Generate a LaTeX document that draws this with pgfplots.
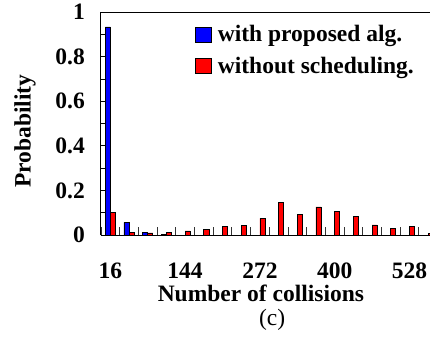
\documentclass[border=0pt]{standalone}
\usepackage{fontspec}
\setmainfont{Liberation Serif}
\usepackage{pgfplots}
\pgfplotsset{compat=1.18}
\newcommand\bigf{\fontsize{23.5}{28}\selectfont}
\begin{document}
\begin{tikzpicture}
\begin{axis}[
  scale only axis, width=329pt, height=223pt,
  xmin=-0.5, xmax=17.1, ymin=0, ymax=1,
  axis x line*=box, axis y line*=left,
  axis line style={line width=1pt, black},
  tick align=inside, xtick pos=lower, ytick pos=left,
  major tick length=4.5pt, minor tick length=8pt,
  xtick={0,4,8,12,16}, xticklabels={16,144,272,400,528},
  minor xtick={-0.5,0.5,1.5,2.5,3.5,4.5,5.5,6.5,7.5,8.5,9.5,10.5,11.5,12.5,13.5,14.5,15.5,16.5},
  major x tick style={draw=none},
  minor x tick style={black!80, line width=0.8pt},
  ytick={0,0.1,0.2,0.3,0.4,0.5,0.6,0.7,0.8,0.9,1},
  yticklabels={0,{},0.2,{},0.4,{},0.6,{},0.8,{},1},
  major y tick style={black, line width=0.8pt},
  xticklabel style={font=\bigf\bfseries, anchor=north, inner sep=0pt, yshift=-28pt},
  yticklabel style={font=\bigf\bfseries, anchor=east, inner sep=0pt, xshift=-16pt},
  xlabel={\bfseries Number of collisions},
  xlabel style={font=\bigf, at={(axis description cs:0.486,0)}, anchor=north, inner sep=0pt, yshift=-50pt},
  ylabel={\bfseries Probability},
  ylabel style={font=\bigf, at={(axis description cs:-0.198,0.466)}, anchor=south, inner sep=0pt},
  legend style={at={(axis description cs:0.2857,0.945)}, anchor=north west, draw=none, fill=none,
    inner sep=0pt, font=\bigf\bfseries, row sep=12pt, nodes={inner sep=1pt},
    /tikz/every odd column/.append style={column sep=5pt}},
  legend cell align=left,
]
\addplot[ybar, bar width=0.27, bar shift=-0.135, fill=blue, draw=black, line width=0.7pt,
  legend image code/.code={\draw[fill=blue, draw=black, line width=0.7pt] (0pt,-7.5pt) rectangle (16pt,7.5pt);}]
  coordinates {(0,0.933) (1,0.057) (2,0.0105) (3,0.0045)};
\addlegendentry{with proposed alg.}
\addplot[ybar, bar width=0.27, bar shift=0.135, fill=red, draw=black, line width=0.7pt,
  legend image code/.code={\draw[fill=red, draw=black, line width=0.7pt] (0pt,-7.5pt) rectangle (16pt,7.5pt);}]
  coordinates {(0,0.102) (1,0.012) (2,0.009) (3,0.012) (4,0.018) (5,0.024) (6,0.039) (7,0.0435)
    (8,0.075) (9,0.148) (10,0.093) (11,0.126) (12,0.105) (13,0.085) (14,0.045) (15,0.031) (16,0.039) (17,0.007)};
\addlegendentry{without scheduling.}
\coordinate (bl) at (rel axis cs:0,0);
\coordinate (tr) at (rel axis cs:1,1);
\coordinate (cpos) at (rel axis cs:0.52,0);
\end{axis}
\node[font=\bigf, anchor=north, inner sep=0pt, yshift=-74pt] at (cpos) {(c)};
\pgfresetboundingbox
\path ([shift={(-101pt,-103pt)}]bl) rectangle ([shift={(0pt,12pt)}]tr);
\end{tikzpicture}
\end{document}
